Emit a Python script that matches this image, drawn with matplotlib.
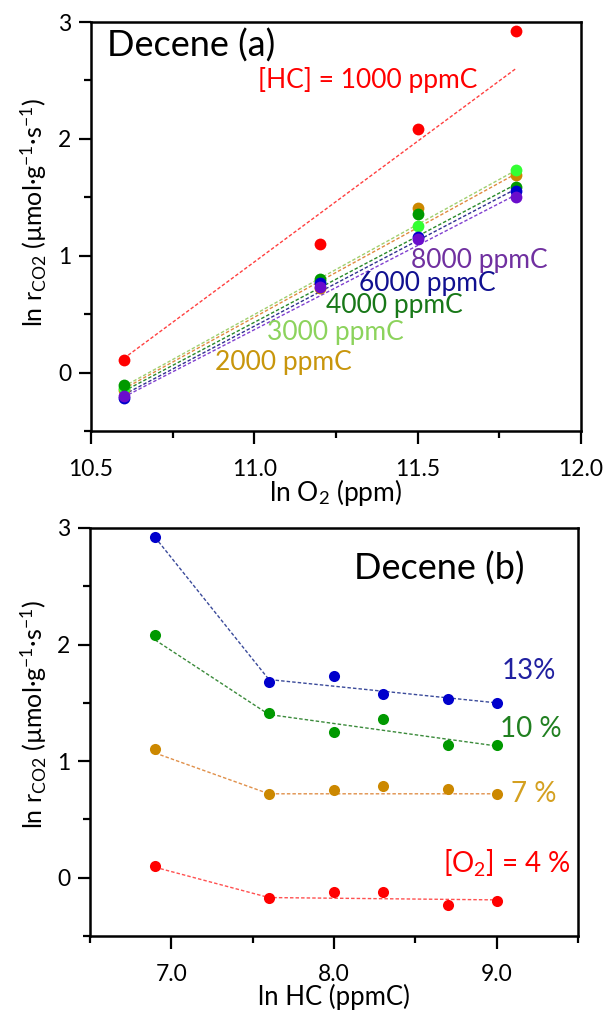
import matplotlib
matplotlib.use('Agg')
import matplotlib.pyplot as plt
from matplotlib.ticker import MultipleLocator, FormatStrFormatter

plt.rcParams['font.family'] = ['Lato', 'DejaVu Sans']
plt.rcParams['mathtext.fontset'] = 'custom'
plt.rcParams['mathtext.rm'] = 'Lato'
plt.rcParams['mathtext.it'] = 'Lato:italic'

# (a) ln rate vs ln O2 at fixed HC
ln_o2 = [10.6, 11.2, 11.5, 11.8]
hc_labels = ['[HC] = 1000 ppmC', '2000 ppmC', '3000 ppmC', '4000 ppmC', '6000 ppmC', '8000 ppmC']
rate_a = [
    [0.11, 1.10, 2.08, 2.92],     # 1000
    [-0.15, 0.72, 1.41, 1.69],    # 2000
    [-0.13, 0.78, 1.25, 1.73],    # 3000
    [-0.11, 0.80, 1.36, 1.59],    # 4000
    [-0.22, 0.77, 1.16, 1.55],    # 6000
    [-0.20, 0.73, 1.14, 1.50],    # 8000
]
# fitted lines, values at first and last ln O2
fit_a_x = [10.6, 11.8]
fit_a = [
    [0.12, 2.60],
    [-0.14, 1.70],
    [-0.12, 1.73],
    [-0.16, 1.61],
    [-0.19, 1.57],
    [-0.21, 1.52],
]

# (b) ln rate vs ln HC at fixed O2
ln_hc = [6.9, 7.6, 8.0, 8.3, 8.7, 9.0]
o2_labels = ['13%', '10 %', '7 %', '[O$_2$] = 4 %']
rate_b = [
    [2.92, 1.68, 1.73, 1.58, 1.53, 1.50],
    [2.08, 1.41, 1.25, 1.36, 1.14, 1.14],
    [1.10, 0.72, 0.75, 0.79, 0.76, 0.72],
    [0.10, -0.17, -0.12, -0.12, -0.23, -0.20],
]
fit_b_x = [6.9, 7.6, 9.0]
fit_b = [
    [2.92, 1.70, 1.50],
    [2.04, 1.40, 1.13],
    [1.07, 0.72, 0.72],
    [0.09, -0.17, -0.19],
]

colors_a = ['#ff0000', '#cc8800', '#33ff33', '#009900', '#0000cc', '#6a0dcc']
line_colors_a = ['#ff4040', '#e08a40', '#a0d070', '#2a8a2a', '#303090', '#8040d0']
text_colors_a = ['#ff0000', '#c8960c', '#8cd35c', '#187818', '#101090', '#7030a0']
text_pos_a = [(11.01, 2.50), (10.88, 0.09), (11.04, 0.34), (11.22, 0.57), (11.32, 0.76), (11.48, 0.96)]

colors_b = ['#0000cc', '#009900', '#cc8800', '#ff0000']
line_colors_b = ['#3a4a9a', '#3a8a3a', '#e0904a', '#ff5050']
text_colors_b = ['#2020a0', '#208020', '#d4a020', '#ff0000']
text_pos_b = [(9.03, 1.77), (9.02, 1.28), (9.09, 0.72), (8.67, 0.12)]

ylabel = r'ln r$_\mathregular{CO2}$ (µmol·g$^\mathregular{-1}$·s$^\mathregular{-1}$)'


def style_axes(ax):
    for sp in ax.spines.values():
        sp.set_linewidth(1.8)
    ax.tick_params(which='both', direction='out', width=1.6, labelsize=16.5)
    ax.tick_params(which='major', length=9)
    ax.tick_params(which='minor', length=5)
    ax.tick_params(axis='x', which='both', pad=11)
    ax.tick_params(axis='y', which='both', pad=5)
    ax.set_ylim(-0.5, 3)
    ax.yaxis.set_major_locator(MultipleLocator(1))
    ax.yaxis.set_minor_locator(MultipleLocator(0.5))
    ax.set_ylabel(ylabel, fontsize=18)


fig = plt.figure(figsize=(6.06, 10.14), dpi=100)

# panel (a)
ax1 = fig.add_axes([0.1502, 0.5750, 0.8086, 0.4033])
for i in range(len(rate_a)):
    ax1.plot(fit_a_x, fit_a[i], linestyle=(0, (2.5, 1.5)), lw=1, color=line_colors_a[i])
for i in range(len(rate_a)):
    ax1.plot(ln_o2, rate_a[i], 'o', ms=8.5, color=colors_a[i], mec='none')
    ax1.text(text_pos_a[i][0], text_pos_a[i][1], hc_labels[i], color=text_colors_a[i],
             fontsize=19, ha='left', va='center')
ax1.text(10.549, 2.80, 'Decene (a)', fontsize=26, ha='left', va='center')
ax1.set_xlim(10.5, 12.0)
ax1.xaxis.set_major_locator(MultipleLocator(0.5))
ax1.xaxis.set_minor_locator(MultipleLocator(0.25))
ax1.xaxis.set_major_formatter(FormatStrFormatter('%.1f'))
style_axes(ax1)
ax1.set_xlabel('ln O$_2$ (ppm)', fontsize=19)
ax1.xaxis.set_label_coords(0.5, -0.112)
ax1.yaxis.set_label_coords(-0.085, 0.535)

# panel (b)
ax2 = fig.add_axes([0.1485, 0.0769, 0.8053, 0.4024])
for i in range(len(rate_b)):
    ax2.plot(fit_b_x, fit_b[i], linestyle=(0, (2.5, 1.5)), lw=1, color=line_colors_b[i])
    ax2.plot(ln_hc, rate_b[i], 'o', ms=8, color=colors_b[i], mec='none')
    ax2.text(text_pos_b[i][0], text_pos_b[i][1], o2_labels[i], color=text_colors_b[i],
             fontsize=20, ha='left', va='center')
ax2.text(8.126, 2.65, 'Decene (b)', fontsize=26, ha='left', va='center')
ax2.set_xlim(6.5, 9.5)
ax2.xaxis.set_major_locator(MultipleLocator(1))
ax2.xaxis.set_minor_locator(MultipleLocator(0.5))
ax2.xaxis.set_major_formatter(FormatStrFormatter('%.1f'))
style_axes(ax2)
ax2.set_xlabel('ln HC (ppmC)', fontsize=18.5)
ax2.xaxis.set_label_coords(0.5, -0.118)
ax2.yaxis.set_label_coords(-0.085, 0.542)

fig.savefig('out.png', dpi=100)
